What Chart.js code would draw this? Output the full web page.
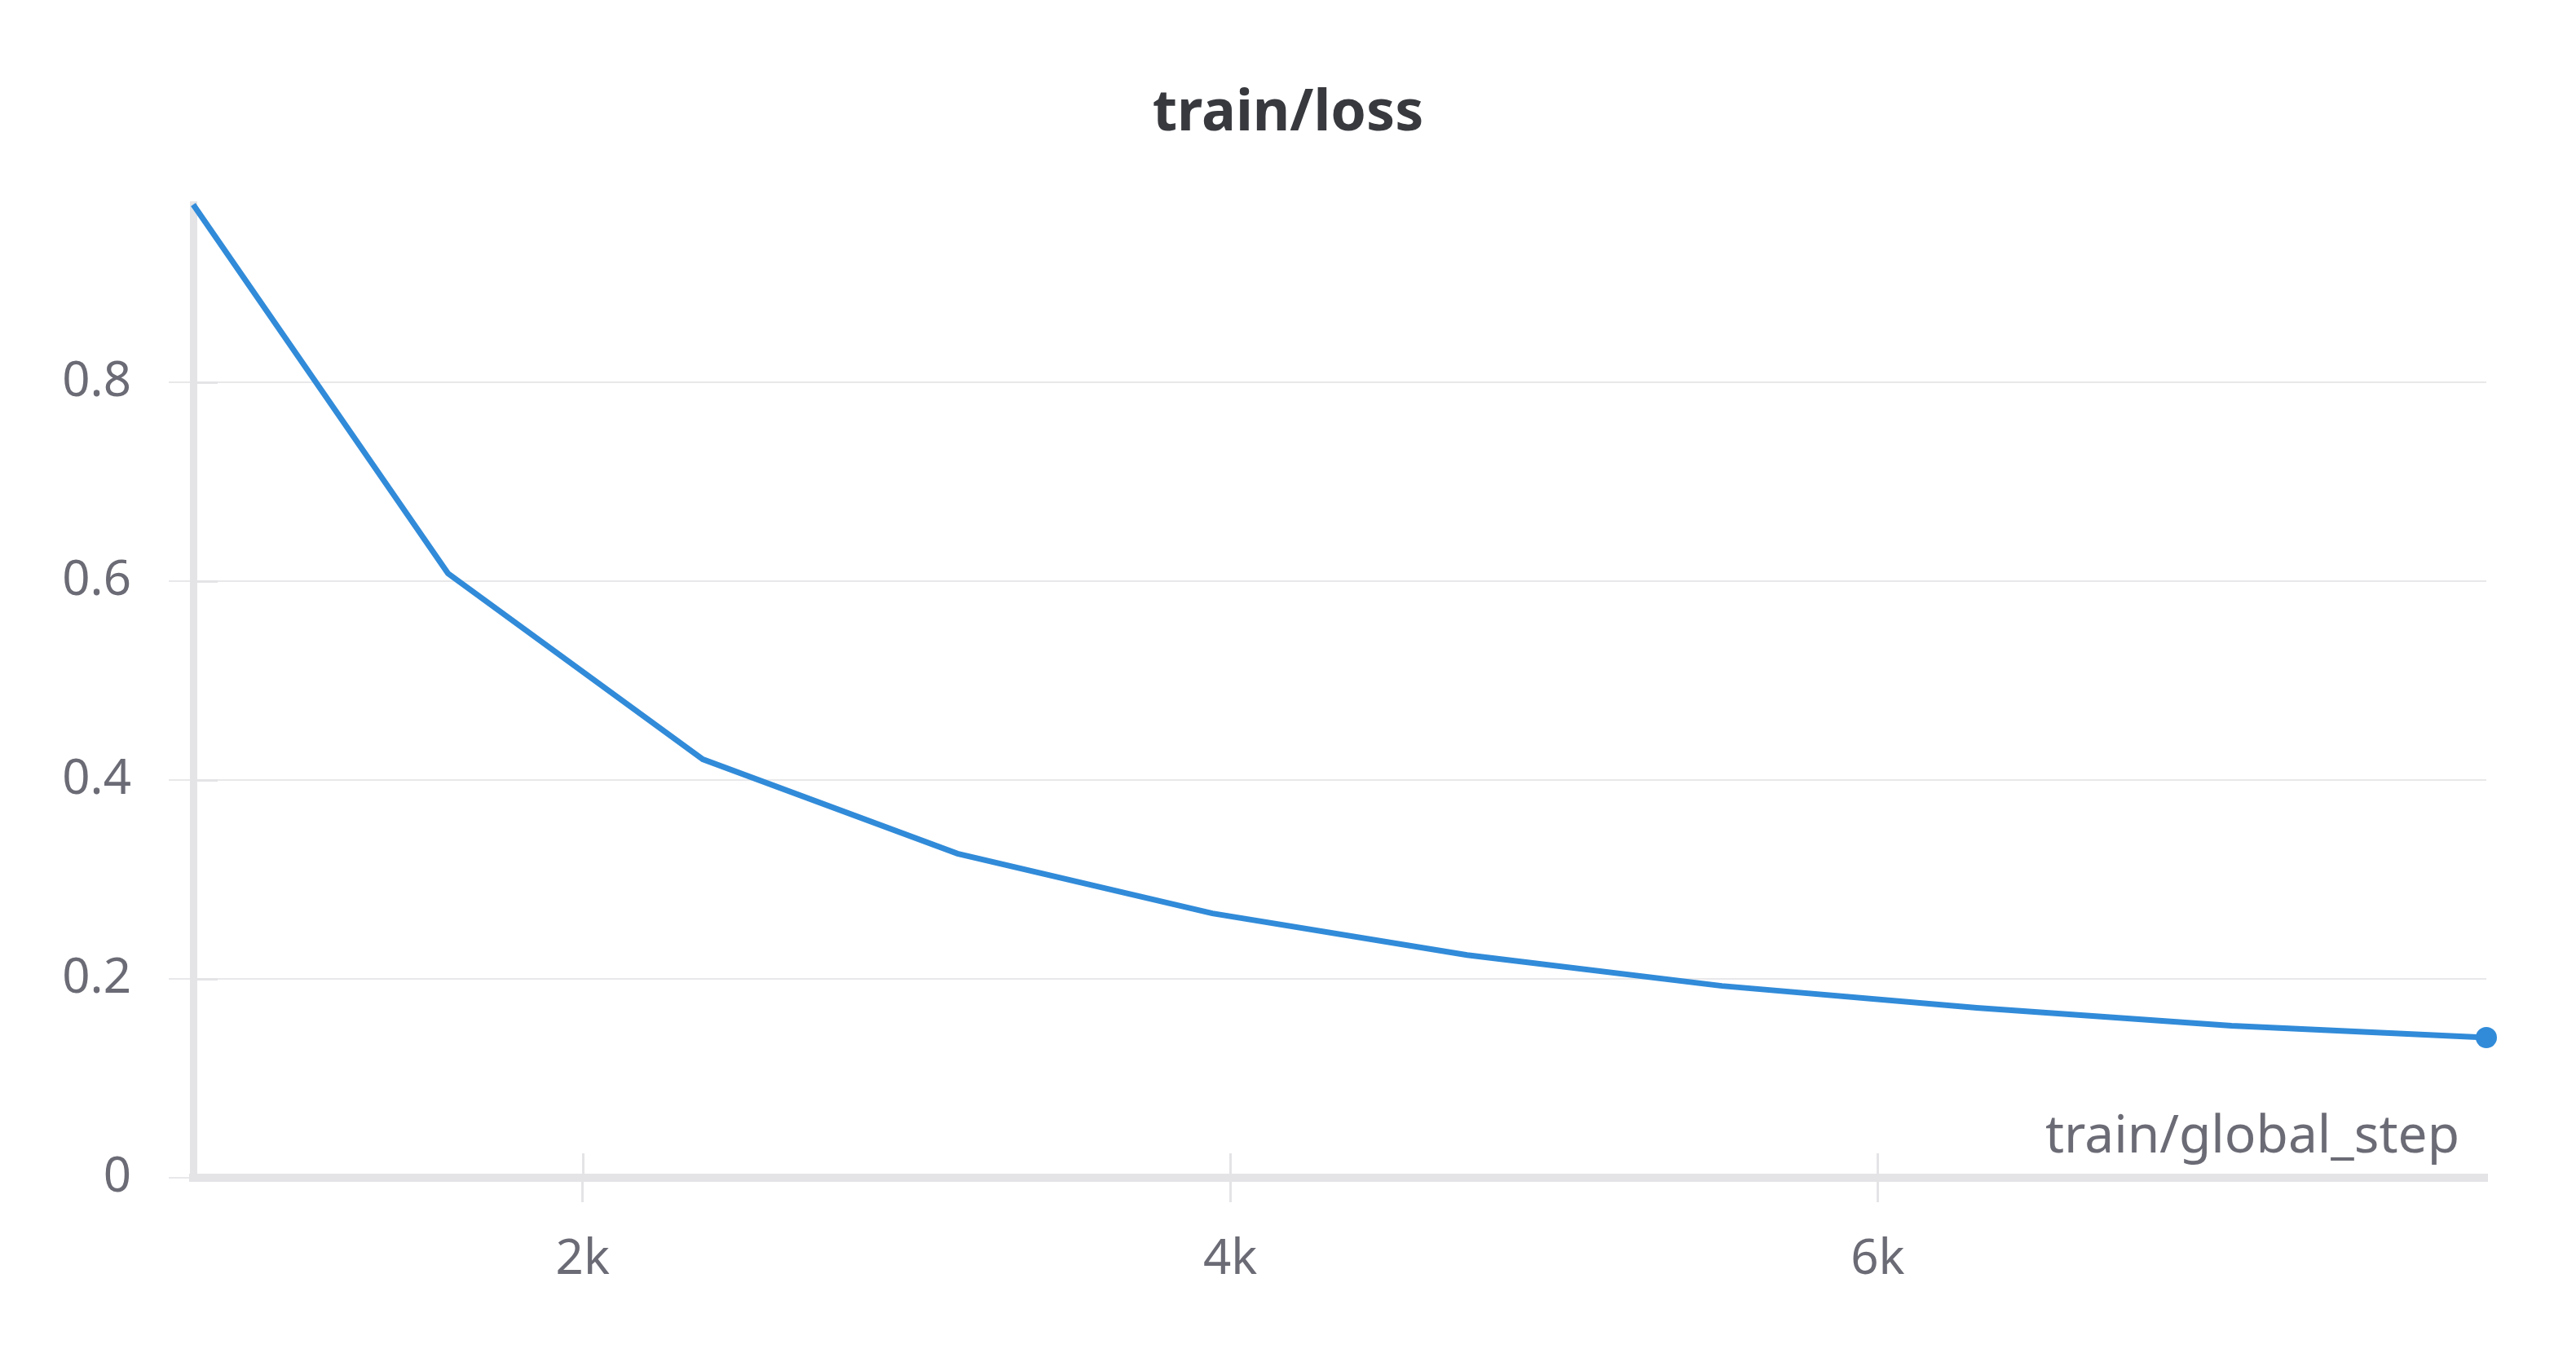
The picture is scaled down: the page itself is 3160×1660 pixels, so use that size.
<!DOCTYPE html>
<html>
<head>
<meta charset="utf-8">
<script src="https://cdn.jsdelivr.net/npm/chart.js@4.4.0/dist/chart.umd.min.js"></script>
<style>
    html, body { margin: 0; padding: 0; background: #fff; }
</style>
</head>
<body>
<canvas id="chartLoss" width="3160" height="1660"></canvas>
<script>
// train/loss por global_step
const steps = [797, 1584, 2371, 3158, 3945, 4732, 5519, 6306, 7093, 7880]
const loss = [0.979, 0.608, 0.421, 0.326, 0.266, 0.224, 0.193, 0.171, 0.153, 0.141]
const xTicks = [2000, 4000, 6000]
const xTickLabels = ["2k", "4k", "6k"]
const yTicks = [0, 0.2, 0.4, 0.6, 0.8]
const yTickLabels = ["0", "0.2", "0.4", "0.6", "0.8"]

const axisGray = "#e4e4e7"
const textGray = "#6b6b76"
const lineBlue = "#318bd9"

// titulo no centro do canvas, titulo do eixo x dentro da area + tracinhos internos dos ticks
const extras = {
    id: "extras",
    beforeDatasetsDraw(chart) {
        const { ctx, chartArea, scales } = chart
        ctx.save()
        ctx.strokeStyle = axisGray
        ctx.lineWidth = 3
        xTicks.forEach(v => {
            const px = Math.round(scales.x.getPixelForValue(v)) + 0.5
            ctx.beginPath()
            ctx.moveTo(px, chartArea.bottom)
            ctx.lineTo(px, chartArea.bottom - 30)
            ctx.stroke()
        })
        yTicks.forEach(v => {
            const py = Math.round(scales.y.getPixelForValue(v)) + 0.5
            ctx.beginPath()
            ctx.moveTo(chartArea.left, py)
            ctx.lineTo(chartArea.left + 30, py)
            ctx.stroke()
        })
        ctx.restore()
    },
    afterDraw(chart) {
        const { ctx, chartArea, width } = chart
        ctx.save()
        ctx.font = 'bold 70px "Noto Sans"'
        ctx.fillStyle = "#37393e"
        ctx.textAlign = "center"
        ctx.textBaseline = "middle"
        ctx.fillText("train/loss", width / 2, 140)

        ctx.font = '64px "Noto Sans"'
        ctx.fillStyle = textGray
        ctx.textAlign = "right"
        ctx.textBaseline = "alphabetic"
        ctx.fillText("train/global_step", chartArea.right - 33, chartArea.bottom - 31)
        ctx.restore()
    }
}

const ctx = document.getElementById("chartLoss")

new Chart(ctx, {
    type: "line",
    data: {
        datasets: [{
            label: "train/loss",
            data: steps.map((s, i) => ({ x: s, y: loss[i] })),
            borderColor: lineBlue,
            backgroundColor: lineBlue,
            borderWidth: 7,
            tension: 0,
            fill: false,
            clip: false,
            pointRadius: steps.map((s, i) => i === steps.length - 1 ? 13 : 0),
            pointBorderWidth: 0,
            pointBackgroundColor: lineBlue
        }]
    },
    options: {
        responsive: false,
        devicePixelRatio: 1,
        animation: false,
        layout: {
            padding: { left: 0, right: 110, top: 251, bottom: 0 }
        },
        plugins: {
            legend: { display: false },
            tooltip: { enabled: false },
            title: { display: false }
        },
        scales: {
            x: {
                type: "linear",
                min: steps[0],
                max: steps[steps.length - 1],
                afterBuildTicks: scale => { scale.ticks = xTicks.map(v => ({ value: v })) },
                afterFit: scale => { scale.height = 215 },
                ticks: {
                    callback: (value, index) => xTickLabels[index],
                    color: textGray,
                    font: { family: "Noto Sans", size: 60 },
                    padding: 35,
                    maxRotation: 0
                },
                grid: {
                    drawOnChartArea: false,
                    tickLength: 30,
                    color: axisGray,
                    lineWidth: 3
                },
                border: { color: axisGray, width: 10 }
            },
            y: {
                type: "linear",
                min: 0,
                max: Math.max(...loss),
                afterBuildTicks: scale => { scale.ticks = yTicks.map(v => ({ value: v })) },
                afterFit: scale => { scale.width = 237 },
                ticks: {
                    callback: (value, index) => yTickLabels[index],
                    color: textGray,
                    font: { family: "Noto Sans", size: 60 },
                    padding: 46
                },
                grid: {
                    tickLength: 30,
                    color: "#e8e8ea",
                    lineWidth: 2
                },
                border: { color: axisGray, width: 9 }
            }
        }
    },
    plugins: [extras]
})
</script>
</body>
</html>
